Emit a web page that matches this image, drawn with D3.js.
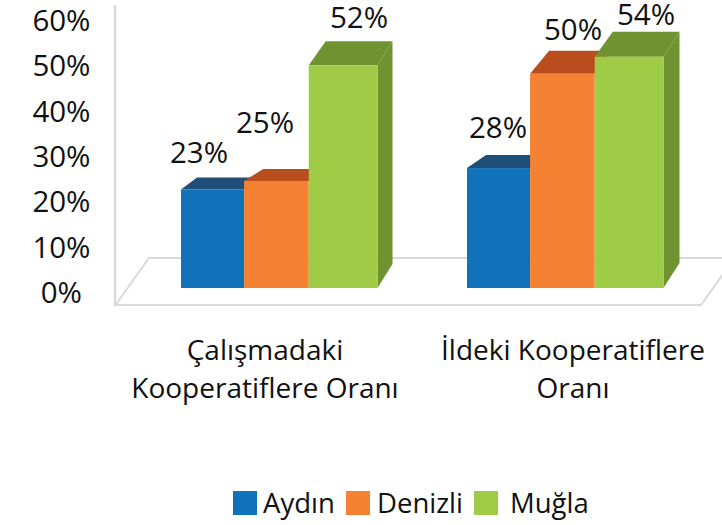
<!DOCTYPE html>
<html><head><meta charset="utf-8">
<script src="https://cdn.jsdelivr.net/npm/d3@7/dist/d3.min.js"></script>
<style>html,body{margin:0;padding:0;background:#fff}svg{display:block}text{font-family:"Open Sans",sans-serif;fill:#111}</style>
</head><body><svg id="c" width="722" height="525"></svg>
<script>
const categories = [["Çalışmadaki","Kooperatiflere Oranı"],["İldeki Kooperatiflere","Oranı"]];
const seriesNames = ["Aydın","Denizli","Muğla"];
const aydin = [23,28];
const denizli = [25,50];
const mugla = [52,54];
const tickValues = [0,10,20,30,40,50,60];
const colors = ["#1072BA","#F58232","#9FCB47"];
const topColors = ["#1F4E79","#B84D1E","#709332"];
const sideColor = "#709332";

const svg = d3.select("#c");
const values = [aydin, denizli, mugla];

// scales
const y = d3.scaleLinear().domain([0,60]).range([288,31]);
const yTick = d3.scaleLinear().domain([0,60]).range([303,31]);
const x0 = d3.scaleOrdinal().domain([0,1]).range([181,467]);
const groupW = 196.5;
const seriesEdge = d3.scaleOrdinal().domain([0,1,2,3]).range([0,0.321,0.65,1]);

// floor and wall
const floorCol = "#d9d9d9";
const floor = svg.append("g").attr("fill","none").attr("stroke",floorCol).attr("stroke-width",2);
floor.append("path").attr("d","M115.5,305 L149,258 L722,258");
floor.append("path").attr("d","M115.5,305 L701,305 L723,274");
svg.append("line").attr("x1",115).attr("x2",115).attr("y1",5).attr("y2",306.5)
  .attr("stroke",floorCol).attr("stroke-width",2.5);

// y axis labels
svg.append("g").selectAll("text").data(tickValues).join("text")
  .attr("x",d=>d===0?82:90.5).attr("y",d=>yTick(d)).attr("text-anchor","end")
  .attr("font-size",29.5).text(d=>d+"%");

// bars
const depthX = [[16,19],[19,19],[17,18]];
const depthY = [[12,13],[12,23],[24,25]];
const labelPos = [[[199,163],[498,138]],[[265,133],[573,40]],[[359,28],[646,25]]];
values.forEach((vals,s)=>{
  const g = svg.append("g");
  vals.forEach((v,i)=>{
    const xL = x0(i)+seriesEdge(s)*groupW, xR = x0(i)+seriesEdge(s+1)*groupW;
    const yT = y(v), yB = y(0), dx = depthX[s][i], dy = depthY[s][i];
    if(s===2) g.append("polygon").attr("fill",sideColor)
      .attr("points",[[xR,yB],[xR+dx-2,yB-dy],[xR+dx-2,yT-dy],[xR,yT]].join(" "));
    g.append("polygon").attr("fill",topColors[s])
      .attr("points",[[xL,yT],[xL+dx,yT-dy],[xR+dx-2,yT-dy],[xR,yT]].join(" "));
    g.append("rect").attr("x",xL).attr("y",yT).attr("width",xR-xL).attr("height",yB-yT).attr("fill",colors[s]);
  });
});
// data labels
values.forEach((vals,s)=>vals.forEach((v,i)=>{
  svg.append("text").attr("x",labelPos[s][i][0]).attr("y",labelPos[s][i][1])
    .attr("text-anchor","middle").attr("font-size",29.5).text(v+"%");
}));

// category labels
const catX = [265,573];
categories.forEach((lines,i)=>{
  lines.forEach((t,j)=>svg.append("text").attr("x",catX[i]).attr("y",360+j*38)
    .attr("text-anchor","middle").attr("font-size",28).text(t));
});

// legend
const legX = [233,346,474];
const legT = [263,377,510];
seriesNames.forEach((n,s)=>{
  svg.append("rect").attr("x",legX[s]).attr("y",491).attr("width",24).attr("height",24).attr("fill",colors[s]);
  svg.append("text").attr("x",legT[s]).attr("y",513).attr("font-size",27.5).text(n);
});
</script></body></html>
